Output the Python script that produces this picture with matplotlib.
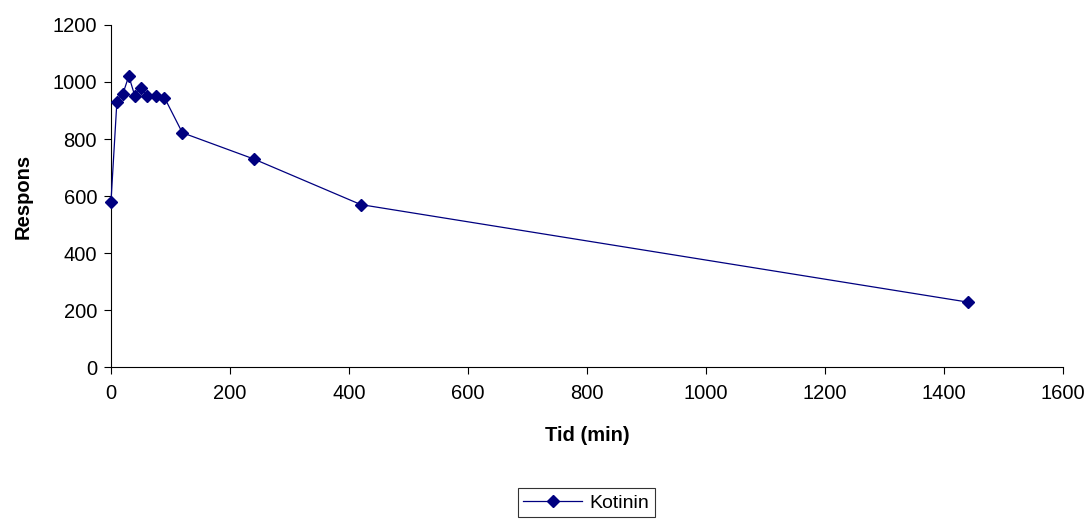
import matplotlib.pyplot as plt

# data
tid = [0, 10, 20, 30, 40, 50, 60, 75, 90, 120, 240, 420, 1440]
respons = [578, 931, 958, 1021, 952, 979, 952, 952, 945, 822, 730, 570, 228]

plt.rcParams['font.family'] = ['Liberation Sans', 'DejaVu Sans']

fig = plt.figure(figsize=(10.92, 5.20), dpi=100)
ax = fig.add_axes([0.1016, 0.294, 0.8718, 0.658])

navy = "#000080"
ax.plot(tid, respons, color=navy, lw=0.9, marker="D", ms=6,
        markerfacecolor=navy, markeredgecolor=navy, label="Kotinin",
        clip_on=False, zorder=3)

ax.set_xlim(0, 1600)
ax.set_ylim(0, 1200)
ax.set_xticks(range(0, 1601, 200))
ax.set_yticks(range(0, 1201, 200))
ax.tick_params(labelsize=14.5, direction="out", length=5, width=0.8)
ax.tick_params(axis="x", pad=7)
ax.tick_params(axis="y", pad=5)

for s in ("top", "right"):
    ax.spines[s].set_visible(False)
for s in ("left", "bottom"):
    ax.spines[s].set_linewidth(0.8)

ax.set_xlabel("Tid (min)", fontsize=14.5, fontweight="bold", labelpad=17)
ax.set_ylabel("Respons", fontsize=14.5, fontweight="bold", labelpad=14)

leg = fig.legend(loc="center", bbox_to_anchor=(0.537, 0.033), fontsize=14,
                 frameon=True, fancybox=False, edgecolor="black",
                 handlelength=3, borderpad=0.3, handletextpad=0.4)
leg.get_frame().set_linewidth(0.8)

fig.savefig("out.png", dpi=100)
